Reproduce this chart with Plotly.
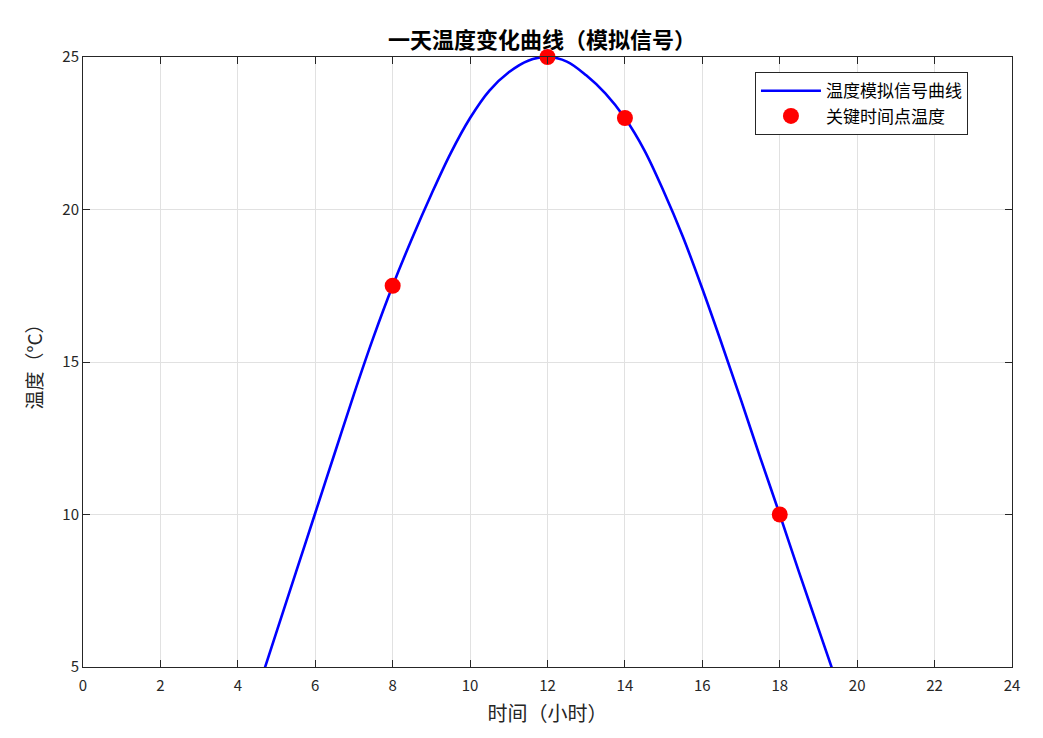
import plotly.graph_objects as go

# curve values (hours, deg C); ends run just past the 5 degree floor
hours = [4.5, 5.0, 5.5, 6.0, 6.5, 7.0, 7.5, 8.0, 8.5, 9.0, 9.5, 10.0, 10.5, 11.0, 11.5,
         12.0, 12.5, 13.0, 13.5, 14.0, 14.5, 15.0, 15.5, 16.0, 16.5, 17.0, 17.5, 18.0,
         18.5, 19.0, 19.5]
temps = [4.2, 6.15, 8.1, 10.05, 12.0, 13.95, 15.8, 17.5, 19.05, 20.5, 21.85, 23.0, 23.9, 24.5, 24.88,
         25.0, 24.85, 24.4, 23.8, 23.0, 21.95, 20.6, 19.1, 17.4, 15.6, 13.75, 11.85, 10.0,
         8.1, 6.25, 4.4]

key_hours = [8, 12, 14, 18]
key_temps = [17.5, 25, 23, 10]

font = "Noto Sans CJK SC"
axcol = "#262626"

fig = go.Figure()
fig.add_trace(go.Scatter(x=hours, y=temps, mode="lines", name="温度模拟信号曲线",
                         line=dict(color="#0000ff", width=2.6, shape="spline", smoothing=1.0)))
fig.add_trace(go.Scatter(x=key_hours, y=key_temps, mode="markers", name="关键时间点温度",
                         marker=dict(color="#ff0000", size=16), cliponaxis=False))

axis = dict(showline=True, linecolor=axcol, linewidth=1, mirror="ticks",
            ticks="inside", ticklen=7, tickcolor=axcol,
            showgrid=True, gridcolor="#e1e1e1", gridwidth=1, zeroline=False,
            tickfont=dict(family=font, size=15, color=axcol))

# the page body adds an 8px offset, so margins are shifted to keep the plot box in place
fig.update_layout(
    width=1043, height=738,
    margin=dict(l=75, r=39, t=49, b=79),
    paper_bgcolor="white", plot_bgcolor="white",
    font=dict(family=font, color=axcol),
    title=dict(text="<b>一天温度变化曲线（模拟信号）</b>", xref="paper", x=0.494, xanchor="center",
               y=0.9566, yanchor="middle", font=dict(family=font, size=22, color="black")),
    xaxis=dict(axis, range=[0, 24], tickvals=list(range(0, 25, 2)), ticklabelstandoff=5,
               title=dict(text="时间（小时）", font=dict(family=font, size=20, color=axcol), standoff=12)),
    yaxis=dict(axis, range=[5, 25], tickvals=[5, 10, 15, 20, 25],
               title=dict(text="温度（°C）", font=dict(family=font, size=19, color=axcol), standoff=14)),
    legend=dict(x=0.9526, y=0.975, xanchor="right", yanchor="top",
                bordercolor=axcol, borderwidth=1, bgcolor="white",
                font=dict(family=font, size=17, color="black"),
                tracegroupgap=0, itemwidth=60),
    showlegend=True,
)

fig.write_html("out.html")
